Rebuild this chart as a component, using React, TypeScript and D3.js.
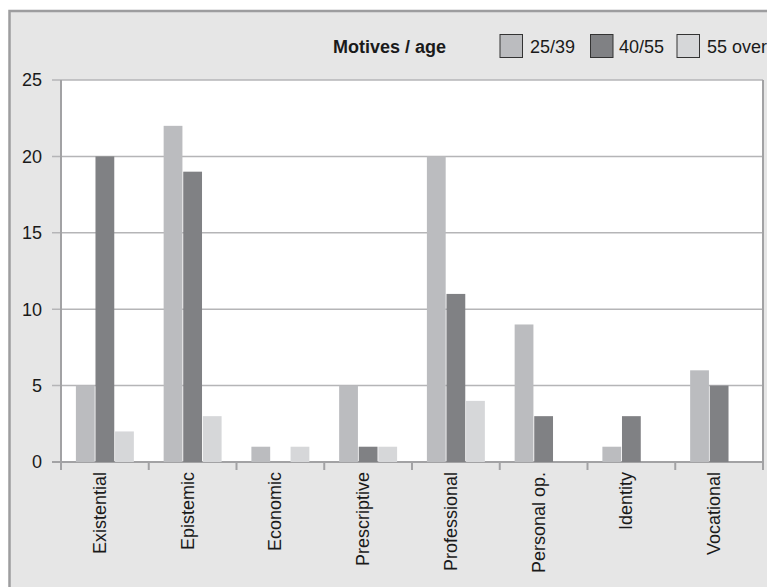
import React from "react";
import * as d3 from "d3";

const categories = ["Existential", "Epistemic", "Economic", "Prescriptive", "Professional", "Personal op.", "Identity", "Vocational"];
const series = ["25/39", "40/55", "55 over"];
const values25to39 = [5, 22, 1, 5, 20, 9, 1, 6];
const values40to55 = [20, 19, 0, 1, 11, 3, 3, 5];
const values55over = [2, 3, 1, 1, 4, 0, 0, 0];
const yTicks = [0, 5, 10, 15, 20, 25];
const legendTitle = "Motives / age";

const colors = ["#bbbcbf", "#808184", "#d6d7d9"];
const seriesValues = [values25to39, values40to55, values55over];

const W = 767;
const H = 587;
const plot = { left: 61, right: 763, top: 80, bottom: 462 };
const font = "'Liberation Sans', Arial, Helvetica, sans-serif";

export default function App() {
  const x0 = d3.scaleBand<string>().domain(categories).range([plot.left, plot.right]).paddingInner(0).paddingOuter(0);
  const x1 = d3.scaleBand<string>().domain(series).range([0, x0.bandwidth()]).paddingInner(0).paddingOuter(0.74);
  const y = d3.scaleLinear().domain([0, 25]).range([plot.bottom, plot.top]);
  const gridColor = "#b5b5b7";
  const axisColor = "#a2a2a4";

  const boundaries = categories.map((c) => x0(c) as number).concat([plot.right]);

  const legendItems = [
    { box: 500, text: 530 },
    { box: 590.5, text: 619 },
    { box: 677, text: 707 },
  ];

  return (
    <svg width={W} height={H} style={{ position: "absolute", left: 0, top: 0 }} fontFamily={font}>
      {/* outer frame */}
      <rect x={9.5} y={11} width={W} height={H} fill="#e6e6e6" stroke="#9d9d9f" strokeWidth={2.5} />
      {/* plot background */}
      <rect x={plot.left} y={plot.top} width={plot.right - plot.left} height={plot.bottom - plot.top} fill="#ffffff" />
      {/* gridlines */}
      {yTicks.map((t) => (
        <line key={"g" + t} x1={52} x2={plot.right} y1={y(t)} y2={y(t)} stroke={t === 0 ? axisColor : gridColor} strokeWidth={t === 0 ? 2 : 1.5} />
      ))}
      {/* bars */}
      {categories.map((c, i) => (
        <g key={c} transform={`translate(${x0(c)},0)`}>
          {series.map((s, j) => {
            const v = seriesValues[j][i];
            if (v <= 0) return null;
            return (
              <rect key={s} x={(x1(s) as number) + 0.4} width={x1.bandwidth() - 0.8} y={y(v)} height={y(0) - y(v)} fill={colors[j]} />
            );
          })}
        </g>
      ))}
      {/* right border of plot */}
      <line x1={plot.right} x2={plot.right} y1={plot.top} y2={plot.bottom} stroke={axisColor} strokeWidth={2} />
      {/* y axis */}
      <line x1={plot.left} x2={plot.left} y1={plot.top} y2={plot.bottom + 8} stroke={axisColor} strokeWidth={2} />
      {/* x ticks at boundaries */}
      {boundaries.map((b, i) => (
        <line key={"xt" + i} x1={b} x2={b} y1={plot.bottom} y2={plot.bottom + 8} stroke={axisColor} strokeWidth={2} />
      ))}
      {/* y tick labels */}
      {yTicks.map((t) => (
        <text key={"yl" + t} x={42} y={y(t)} dy="0.36em" textAnchor="end" fontSize={18} fill="#1a1a1a">
          {t}
        </text>
      ))}
      {/* category labels */}
      {categories.map((c) => {
        const cx = (x0(c) as number) + x0.bandwidth() / 2;
        return (
          <text key={"cl" + c} transform={`translate(${cx + 1},472) rotate(-90)`} textAnchor="end" fontSize={18} fill="#1a1a1a">
            {c}
          </text>
        );
      })}
      {/* legend */}
      <text x={333} y={53} fontSize={18} fontWeight="bold" fill="#1a1a1a">
        {legendTitle}
      </text>
      {series.map((s, j) => (
        <g key={"lg" + s}>
          <rect x={legendItems[j].box} y={34.5} width={22.5} height={23} fill={colors[j]} stroke="#333333" strokeWidth={1} />
          <text x={legendItems[j].text} y={53} fontSize={18} fill="#1a1a1a">
            {s}
          </text>
        </g>
      ))}
    </svg>
  );
}
